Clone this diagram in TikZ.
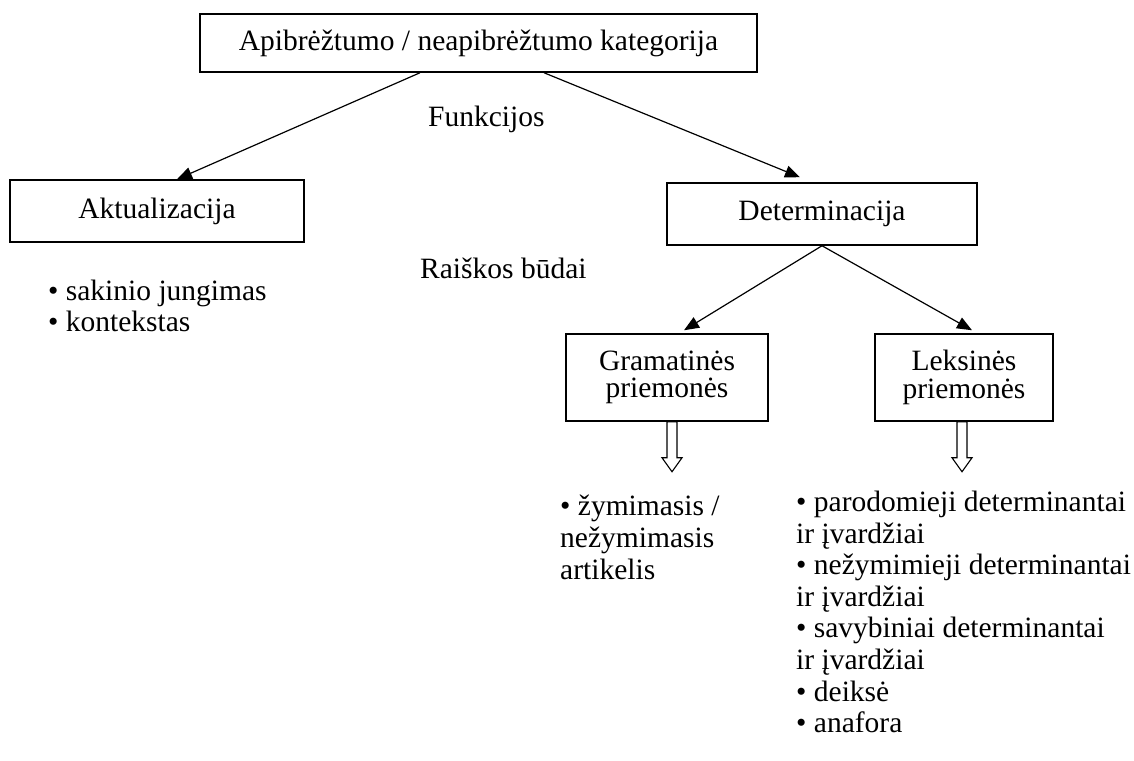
\documentclass[tikz,border=0pt]{standalone}
\usepackage{fontspec}
\setmainfont{Liberation Serif}
\usetikzlibrary{arrows.meta,calc}
\tikzset{
  box/.style={draw, line width=1.5pt, inner sep=0pt, align=center},
  arr/.style={-{Triangle[length=15pt,width=12pt]}, line width=1.2pt},
  hollowarr/.style={draw, line width=1.1pt, fill=white, line join=miter},
  txt/.style={anchor=base west, inner sep=0pt},
}
\begin{document}
\begin{tikzpicture}[x=1pt,y=-1pt,font=\fontsize{29.5}{27.5}\selectfont]
\useasboundingbox (0,0) rectangle (1134,760);
% boxes
\node[box, minimum width=557pt, minimum height=58pt] (top) at (478.5,43) {Apibrėžtumo / neapibrėžtumo kategorija};
\node[box, minimum width=294pt, minimum height=62pt] (akt) at (157,211) {Aktualizacija};
\node[box, minimum width=310pt, minimum height=62pt] (det) at (822,214) {Determinacija};
\node[box, minimum width=202pt, minimum height=87pt] (gram) at (667,377.5) {Gramatinės\\priemonės};
\node[box, minimum width=178pt, minimum height=87pt] (leks) at (964,377.5) {Leksinės\\priemonės};
% labels
\node[txt] (funk) at (428,126) {Funkcijos};
\node[txt] (raisk) at (420,278) {Raiškos būdai};
% left list
\node[txt] (l1) at (48,300) {• sakinio jungimas};
\node[txt] (l2) at (48,331) {• kontekstas};
% middle list
\node[txt] (m1) at (560,515) {• žymimasis /};
\node[txt] (m2) at (560,547) {nežymimasis};
\node[txt] (m3) at (560,579) {artikelis};
% right list
\node[txt] (r1) at (796,511) {• parodomieji determinantai};
\node[txt] (r2) at (796,543) {ir įvardžiai};
\node[txt] (r3) at (796,574) {• nežymimieji determinantai};
\node[txt] (r4) at (796,606) {ir įvardžiai};
\node[txt] (r5) at (796,637) {• savybiniai determinantai};
\node[txt] (r6) at (796,669) {ir įvardžiai};
\node[txt] (r7) at (796,701) {• deiksė};
\node[txt] (r8) at (796,732) {• anafora};
% arrows
\draw[arr] ([xshift=-58.5pt]top.south) -- ([xshift=20pt]akt.north);
\draw[arr] ([xshift=65.5pt]top.south) -- ([xshift=-22pt,yshift=5pt]det.north);
\draw[arr] (det.south) -- ([xshift=17pt,yshift=3pt]gram.north);
\draw[arr] (det.south) -- ([xshift=8pt,yshift=3pt]leks.north);
% hollow arrows
\path (gram.south) ++(5,0) coordinate (ga);
\draw[hollowarr] (ga) ++(-5,0) -- ++(0,36) -- ++(-5,0) -- ++(10,14) -- ++(10,-14) -- ++(-5,0) -- ++(0,-36) -- cycle;
\path (leks.south) ++(-2,0) coordinate (la);
\draw[hollowarr] (la) ++(-5,0) -- ++(0,36) -- ++(-5,0) -- ++(10,14) -- ++(10,-14) -- ++(-5,0) -- ++(0,-36) -- cycle;
\end{tikzpicture}
\end{document}
